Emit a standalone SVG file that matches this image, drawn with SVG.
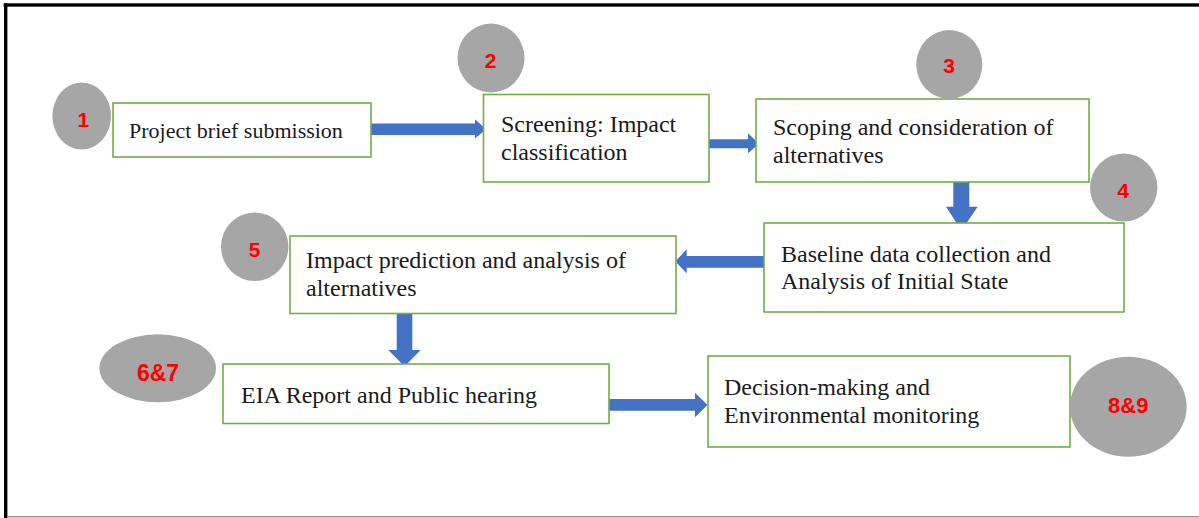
<svg xmlns="http://www.w3.org/2000/svg" width="1199" height="518" viewBox="0 0 1199 518">
<style>
.box{fill:#FFFFFF;stroke:#70AD47;stroke-width:1.6}
.t{font-family:"Liberation Serif","Times New Roman",serif;font-size:24px;fill:#1a1a1a}
.badge{fill:#A6A6A6}
.num{font-family:"Liberation Sans",Arial,sans-serif;font-size:21px;font-weight:bold;fill:#FF0000;text-anchor:middle}
.arr{fill:#4472C4}
</style>
<rect x="0" y="0" width="1199" height="518" fill="#FFFFFF"/>
<g id="frame">
<rect x="3.7" y="3.3" width="1195.3" height="3.4" fill="#000000"/>
<rect x="4" y="3.3" width="3.4" height="514.7" fill="#000000"/>
<rect x="7" y="516.2" width="1192" height="1.2" fill="#808080"/>
</g>
<g id="connectors">
<polygon class="arr" points="371,123.5 475,123.5 475,119.3 486,129.2 475,138.5 475,135 371,135"/>
<polygon class="arr" points="709,139.3 748,139.3 748,133.3 759,143.8 748,153.3 748,148.3 709,148.3"/>
<polygon class="arr" points="953.3,182 969.3,182 969.3,206.7 977.7,206.7 961.5,230.5 946,206.7 953.3,206.7"/>
<polygon class="arr" points="764,256 686.7,256 686.7,249.3 675.3,261.5 686.7,273.3 686.7,267.7 764,267.7"/>
<polygon class="arr" points="396.7,314 412.3,314 412.3,350 420.7,350 404.5,366.5 388.3,350 396.7,350"/>
<polygon class="arr" points="609,399 695,399 695,392.7 707.5,405 695,417.3 695,410.7 609,410.7"/>
</g>
<g id="node1">
<rect class="box" x="113" y="103" width="258" height="54"/>
<text class="t" x="129" y="138" style="font-size:22px">Project brief submission</text>
</g>
<g id="node2">
<rect class="box" x="483.5" y="94.5" width="225.5" height="87.5"/>
<text class="t" x="501" y="132.3">Screening: Impact</text>
<text class="t" x="501" y="160">classification</text>
</g>
<g id="node3">
<rect class="box" x="756" y="99" width="333" height="83"/>
<text class="t" x="773" y="135">Scoping and consideration of</text>
<text class="t" x="773" y="162.7">alternatives</text>
</g>
<g id="node4">
<rect class="box" x="764" y="223" width="360" height="89"/>
<text class="t" x="781" y="261.7">Baseline data collection and</text>
<text class="t" x="781" y="289.3">Analysis of Initial State</text>
</g>
<g id="node5">
<rect class="box" x="290" y="236" width="386" height="77.5"/>
<text class="t" x="306" y="268.3">Impact prediction and analysis of</text>
<text class="t" x="306" y="296">alternatives</text>
</g>
<g id="node6">
<rect class="box" x="223" y="364" width="386" height="59.5"/>
<text class="t" x="241" y="402.7">EIA Report and Public hearing</text>
</g>
<g id="node7">
<rect class="box" x="708" y="356" width="362" height="91"/>
<text class="t" x="724" y="395">Decision-making and</text>
<text class="t" x="724" y="422.7">Environmental monitoring</text>
</g>
<g id="badge1">
<ellipse class="badge" cx="81.7" cy="116" rx="29.3" ry="33.5"/>
<text class="num" x="83.3" y="126.7">1</text>
</g>
<g id="badge2">
<ellipse class="badge" cx="491" cy="58" rx="33.5" ry="34.5"/>
<text class="num" x="490.5" y="68.3">2</text>
</g>
<g id="badge3">
<ellipse class="badge" cx="949.3" cy="64.5" rx="33" ry="34.5"/>
<text class="num" x="949" y="73.3">3</text>
</g>
<g id="badge4">
<ellipse class="badge" cx="1123.7" cy="187.5" rx="33.7" ry="34"/>
<text class="num" x="1123" y="198">4</text>
</g>
<g id="badge5">
<ellipse class="badge" cx="254.7" cy="246.7" rx="33.7" ry="34.3"/>
<text class="num" x="254.5" y="256.7">5</text>
</g>
<g id="badge67">
<ellipse class="badge" cx="157.7" cy="368.3" rx="58.3" ry="34"/>
<text class="num" x="158" y="380.5" style="font-size:23px">6&amp;7</text>
</g>
<g id="badge89">
<ellipse class="badge" cx="1128.3" cy="406.7" rx="58.3" ry="50"/>
<text class="num" x="1128.3" y="413.3" style="font-size:22px">8&amp;9</text>
</g>
</svg>
